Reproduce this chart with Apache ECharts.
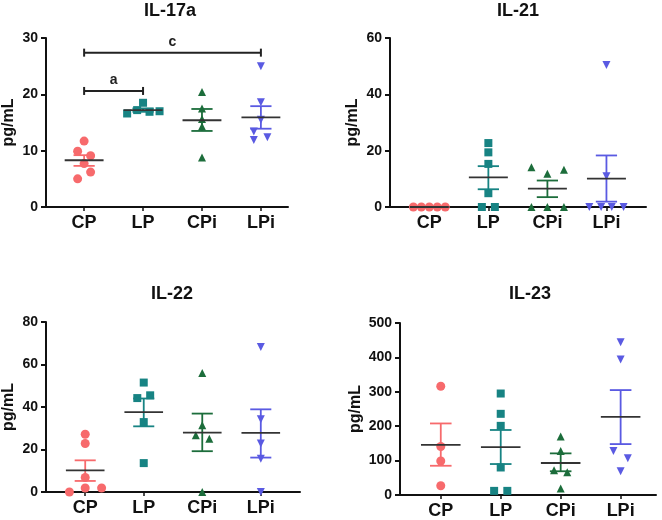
<!DOCTYPE html>
<html>
<head>
<meta charset="utf-8">
<script src="https://cdn.jsdelivr.net/npm/echarts@6/dist/echarts.min.js"></script>
<style>
  html, body { margin: 0; padding: 0; background: #fff; }
  #main { width: 662px; height: 520px; }
</style>
</head>
<body>
<div id="main"></div>
<script>
// groups on the x axis
var groups = ['CP', 'LP', 'CPi', 'LPi'];

// IL-17a (pg/mL)
var il17aValues = [[11.7, 9.9, 9.1, 7.7, 6.2, 5.0], [18.5, 16.6, 17.2, 16.9, 17.0], [20.4, 17.5, 15.6, 14.3, 8.8], [25.0, 18.6, 15.5, 13.4, 11.9, 12.4]];
var il17aJitter = [[0, -0.11, 0.11, 0, 0.11, -0.11], [0, -0.27, -0.1, 0.11, 0.28], [0, 0, 0, 0, 0], [0, 0, 0, -0.12, -0.12, 0.11]];
var il17aMean = [8.3, 17.2, 15.4, 15.9];
var il17aLow = [7.3, 16.9, 13.5, 13.9];
var il17aHigh = [9.2, 17.5, 17.4, 17.9];

// IL-21
var il21Values = [[0, 0, 0, 0, 0], [22.7, 19.4, 15.3, 4.9, 0, 0], [14.1, 11.8, 13.2, 0, 0, 0], [50.4, 10.9, 0, 0, 0, 0]];
var il21Jitter = [[-0.27, -0.135, 0, 0.135, 0.27], [0, 0, 0, 0, -0.11, 0.11], [-0.27, 0, 0.28, -0.27, 0, 0.28], [0, 0, -0.29, -0.09, 0.09, 0.29]];
var il21Mean = [0, 10.5, 6.5, 10.1];
var il21Low = [0, 6.3, 3.5, 1.9];
var il21High = [0, 14.5, 9.4, 18.3];

// IL-22
var il22Values = [[27.2, 22.8, 6.8, 0, 1.9, 1.9], [51.5, 44.2, 45.5, 32.9, 13.6], [56.0, 31.4, 26.7, 25.1, 0], [68.2, 34.2, 22.8, 15.7, 0]];
var il22Jitter = [[0, 0, 0, -0.27, 0, 0.28], [0, -0.11, 0.11, 0, 0], [0, 0, -0.11, 0.12, 0], [0, 0, 0, 0, 0]];
var il22Mean = [10.2, 37.6, 27.9, 27.8];
var il22Low = [5.2, 30.9, 19.2, 16.2];
var il22High = [14.9, 44.0, 36.9, 38.9];

// IL-23
var il23Values = [[316, 141, 99, 27], [295, 236, 201, 80, 12, 12], [170, 128, 72, 66, 19], [444, 394, 128, 107, 69]];
var il23Jitter = [[0, 0, 0, 0], [0, 0, 0, 0, -0.11, 0.11], [0, 0, -0.11, 0.11, 0], [0, 0, -0.12, 0.12, 0]];
var il23Mean = [146, 139, 93, 227];
var il23Low = [85, 90, 69, 148];
var il23High = [208, 189, 121, 305];

// y axis ticks: min, max, step
var il17aTicks = [0, 30, 10];
var il21Ticks = [0, 60, 20];
var il22Ticks = [0, 80, 20];
var il23Ticks = [0, 500, 100];

// significance brackets for IL-17a: [from group, to group, height, letter]
var il17aBrackets = [[1, 2, 20.6, 'a'], [1, 4, 27.4, 'c']];

var colors = ['#f76a6c', '#178383', '#1c6d3b', '#5a5ae2'];
var symbols = ['circle', 'rect', 'triangle', 'triangle'];
var symbolRotate = [0, 0, 0, 180];
var symbolSizes = [9, 8, 8, 8];
var font = '"Liberation Sans", Arial, sans-serif';

var panels = [
    {title: 'IL-17a', values: il17aValues, jitter: il17aJitter, mean: il17aMean, low: il17aLow, high: il17aHigh, ticks: il17aTicks, brackets: il17aBrackets},
    {title: 'IL-21', values: il21Values, jitter: il21Jitter, mean: il21Mean, low: il21Low, high: il21High, ticks: il21Ticks},
    {title: 'IL-22', values: il22Values, jitter: il22Jitter, mean: il22Mean, low: il22Low, high: il22High, ticks: il22Ticks},
    {title: 'IL-23', values: il23Values, jitter: il23Jitter, mean: il23Mean, low: il23Low, high: il23High, ticks: il23Ticks}
];

// layout of each panel
var layouts = [
    {left: 45, top: 38, width: 243, height: 169, xMin: 0.353, xMax: 4.46, titleX: 170, titleY: 2},
    {left: 390, top: 38, width: 256, height: 169, xMin: 0.334, xMax: 4.67, titleX: 518, titleY: 2},
    {left: 45, top: 322, width: 255, height: 170, xMin: 0.33, xMax: 4.67, titleX: 172, titleY: 285},
    {left: 400, top: 323, width: 256, height: 174, xMin: 0.32, xMax: 4.59, titleX: 530, titleY: 285}
];

function renderSem(params, api) {
    var x = api.value(0);
    var color = colors[api.value(4)];
    var pm = api.coord([x, api.value(1)]);
    var plo = api.coord([x, api.value(2)]);
    var phi = api.coord([x, api.value(3)]);
    var capL = api.coord([x - 0.18, 0])[0];
    var capR = api.coord([x + 0.18, 0])[0];
    var mL = api.coord([x - 0.33, 0])[0];
    var mR = api.coord([x + 0.33, 0])[0];
    var st = {stroke: color, lineWidth: 1.8};
    return {
        type: 'group',
        children: [
            {type: 'line', shape: {x1: plo[0], y1: plo[1], x2: phi[0], y2: phi[1]}, style: st},
            {type: 'line', shape: {x1: capL, y1: phi[1], x2: capR, y2: phi[1]}, style: st},
            {type: 'line', shape: {x1: capL, y1: plo[1], x2: capR, y2: plo[1]}, style: st},
            {type: 'line', shape: {x1: mL, y1: pm[1], x2: mR, y2: pm[1]}, style: {stroke: '#333', lineWidth: 1.8}}
        ]
    };
}

function renderBracket(params, api) {
    var a = api.coord([api.value(0), api.value(2)]);
    var b = api.coord([api.value(1), api.value(2)]);
    var st = {stroke: '#222', lineWidth: 2};
    return {
        type: 'group',
        children: [
            {type: 'line', shape: {x1: a[0], y1: a[1], x2: b[0], y2: b[1]}, style: st},
            {type: 'line', shape: {x1: a[0], y1: a[1] - 4, x2: a[0], y2: a[1] + 4}, style: st},
            {type: 'line', shape: {x1: b[0], y1: b[1] - 4, x2: b[0], y2: b[1] + 4}, style: st},
            {type: 'text', x: (a[0] + b[0]) / 2, y: a[1] - 4, style: {
                text: il17aBrackets[params.dataIndex][3], fill: '#222',
                font: 'bold 14px ' + font, textAlign: 'center', textVerticalAlign: 'bottom'}}
        ]
    };
}

var grid = [], xAxis = [], yAxis = [], title = [], series = [];

panels.forEach(function (p, i) {
    var L = layouts[i];
    grid.push({left: L.left, top: L.top, width: L.width, height: L.height});
    title.push({
        text: p.title, left: L.titleX, top: L.titleY, textAlign: 'center', padding: 0,
        textStyle: {fontFamily: font, fontWeight: 'bold', fontSize: 18, color: '#111'}
    });
    xAxis.push({
        type: 'value', gridIndex: i, min: L.xMin, max: L.xMax,
        splitLine: {show: false},
        axisLine: {onZero: false, lineStyle: {color: '#111', width: 2}},
        axisTick: {customValues: [1, 2, 3, 4], length: 4, lineStyle: {color: '#111', width: 1.5}},
        axisLabel: {
            customValues: [1, 2, 3, 4], margin: 7,
            formatter: function (v) { return groups[Math.round(v) - 1]; },
            fontFamily: font, fontWeight: 'bold', fontSize: 18, color: '#111'
        }
    });
    yAxis.push({
        type: 'value', gridIndex: i, min: p.ticks[0], max: p.ticks[1], interval: p.ticks[2],
        name: 'pg/mL', nameLocation: 'middle', nameGap: i === 3 ? 36 : 29,
        nameTextStyle: {fontFamily: font, fontWeight: 'bold', fontSize: 16, color: '#111'},
        splitLine: {show: false},
        axisLine: {show: true, onZero: false, lineStyle: {color: '#111', width: 2}},
        axisTick: {show: true, length: 5, lineStyle: {color: '#111', width: 2}},
        axisLabel: {margin: 8, fontFamily: font, fontWeight: 'bold', fontSize: 14, color: '#111'}
    });

    p.values.forEach(function (vals, g) {
        series.push({
            type: 'scatter', xAxisIndex: i, yAxisIndex: i,
            symbol: symbols[g], symbolRotate: symbolRotate[g], symbolSize: symbolSizes[g],
            itemStyle: {color: colors[g], opacity: 1},
            data: vals.map(function (v, k) { return [g + 1 + p.jitter[g][k], v]; }),
            z: 2
        });
    });

    series.push({
        type: 'custom', xAxisIndex: i, yAxisIndex: i, renderItem: renderSem,
        encode: {x: 0, y: [1, 2, 3]},
        data: p.mean.map(function (m, g) { return [g + 1, m, p.low[g], p.high[g], g]; }),
        z: 3
    });

    if (p.brackets) {
        series.push({
            type: 'custom', xAxisIndex: i, yAxisIndex: i, renderItem: renderBracket,
            encode: {x: [0, 1], y: 2},
            data: p.brackets.map(function (b) { return [b[0], b[1], b[2]]; }),
            z: 3
        });
    }
});

var myChart = echarts.init(document.getElementById('main'));
myChart.setOption({
    animation: false,
    backgroundColor: '#fff',
    title: title,
    grid: grid,
    xAxis: xAxis,
    yAxis: yAxis,
    series: series
});
</script>
</body>
</html>
